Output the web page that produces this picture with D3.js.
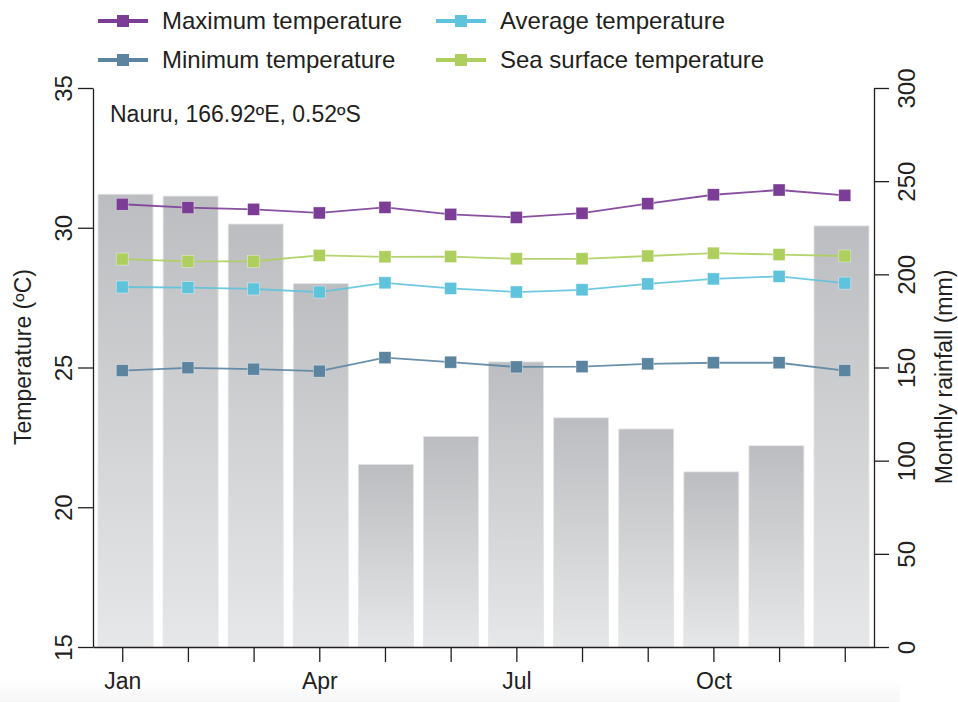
<!DOCTYPE html>
<html><head><meta charset="utf-8">
<script src="https://cdn.jsdelivr.net/npm/d3@7"></script>
<style>
body{margin:0;background:#fff}
svg{display:block}
text{font-family:"Liberation Sans",Arial,Helvetica,sans-serif;fill:#231f20}
</style>
</head><body>
<svg id="chart" width="958" height="702"></svg>
<script>
const months = ["Jan","Feb","Mar","Apr","May","Jun","Jul","Aug","Sep","Oct","Nov","Dec"];
const monthLabels = ["Jan","","","Apr","","","Jul","","","Oct","",""];
const rainfall = [243,242,227,195,98,113,153,123,117,94,108,226];
const maxTemp = [30.84,30.72,30.66,30.53,30.73,30.48,30.37,30.52,30.86,31.18,31.35,31.16];
const seaTemp = [28.88,28.80,28.80,29.01,28.96,28.97,28.89,28.89,28.99,29.09,29.04,28.99];
const avgTemp = [27.88,27.86,27.81,27.70,28.03,27.83,27.70,27.78,27.99,28.17,28.26,28.02];
const minTemp = [24.89,24.99,24.94,24.87,25.35,25.19,25.02,25.03,25.13,25.17,25.17,24.89];
const tempTicks = [15,20,25,30,35];
const rainTicks = [0,50,100,150,200,250,300];
const seriesNames = ["Maximum temperature","Average temperature","Minimum temperature","Sea surface temperature"];
const seriesColors = ["#7b3d96","#5fc3db","#5b84a1","#aecf5e"];
const locationLabel = "Nauru, 166.92ºE, 0.52ºS";

const svg = d3.select("#chart");
const L = 93, R = 874, T = 88, B = 647;
const axisColor = "#231f20";

const x = d3.scalePoint().domain(months).range([L, R]).padding(0.445);
const xb = d3.scaleBand().domain(months).range([L, R]).paddingInner(0.155).paddingOuter(0.077);
const yT = d3.scaleLinear().domain([15, 35]).range([B, T]);
const yR = d3.scaleLinear().domain([0, 300]).range([B, T]);

const defs = svg.append("defs");
const grad = defs.append("linearGradient").attr("id","barGrad").attr("x1",0).attr("y1",0).attr("x2",0).attr("y2",1);
grad.append("stop").attr("offset","0%").attr("stop-color","#bbbdc0");
grad.append("stop").attr("offset","100%").attr("stop-color","#e6e7e8");
const bgrad = defs.append("linearGradient").attr("id","bandGrad").attr("x1",0).attr("y1",0).attr("x2",0).attr("y2",1);
bgrad.append("stop").attr("offset","0%").attr("stop-color","#ffffff");
bgrad.append("stop").attr("offset","100%").attr("stop-color","#f6f6f6");

// faint bottom band
svg.append("rect").attr("x",0).attr("y",680).attr("width",900).attr("height",22).attr("fill","url(#bandGrad)");

// bars
svg.append("g").selectAll("rect").data(rainfall).join("rect")
  .attr("x",(d,i)=>xb(months[i]))
  .attr("y",d=>yR(d))
  .attr("width",xb.bandwidth())
  .attr("height",d=>B-yR(d))
  .attr("fill","url(#barGrad)")
  .attr("stroke","#e4e5e6").attr("stroke-width",0.8);

// lines
const seriesData = [maxTemp, avgTemp, minTemp, seaTemp];
const line = d3.line().x((d,i)=>x(months[i])).y(d=>yT(d));
const drawOrder = [2,1,3,0];
drawOrder.forEach(si=>{
  const g = svg.append("g");
  g.append("path").datum(seriesData[si]).attr("d",line)
    .attr("fill","none").attr("stroke",seriesColors[si]).attr("stroke-width",1.8).attr("opacity",0.9);
  g.selectAll("rect").data(seriesData[si]).join("rect")
    .attr("x",(d,i)=>x(months[i])-6).attr("y",d=>yT(d)-6)
    .attr("width",12).attr("height",12)
    .attr("fill",seriesColors[si]).attr("stroke","#ffffff").attr("stroke-width",0.6).attr("stroke-opacity",0.6);
});

function styleAxis(g){
  g.selectAll("path,line").attr("stroke",axisColor).attr("stroke-width",1.3);
  g.selectAll("text").attr("fill",axisColor).style("font-family",'"Liberation Sans",Arial,sans-serif');
}

// left axis
const gl = svg.append("g").attr("transform",`translate(${L},0)`)
  .call(d3.axisLeft(yT).tickValues(tempTicks).tickSize(15).tickSizeOuter(0).tickFormat(d3.format("d")));
gl.selectAll(".tick text").attr("transform","rotate(-90)").attr("x",0).attr("y",-21).attr("dy",0)
  .attr("text-anchor","middle").style("font-size","24px");
styleAxis(gl);

// right axis
const gr = svg.append("g").attr("transform",`translate(${R},0)`)
  .call(d3.axisRight(yR).tickValues(rainTicks).tickSize(15).tickSizeOuter(0).tickFormat(d3.format("d")));
gr.selectAll(".tick text").attr("transform","rotate(-90)").attr("x",0).attr("y",41).attr("dy",0)
  .attr("text-anchor","middle").style("font-size","24px");
styleAxis(gr);

// bottom axis
const gb = svg.append("g").attr("transform",`translate(0,${B})`)
  .call(d3.axisBottom(x).tickSize(15).tickSizeOuter(0).tickFormat((d,i)=>monthLabels[i]));
gb.selectAll(".tick text").attr("y",42).attr("dy",0).style("font-size","23px");
styleAxis(gb);

// axis titles
svg.append("text").attr("transform",`translate(31,357) rotate(-90)`)
  .attr("text-anchor","middle").style("font-size","23px").text("Temperature (ºC)");
svg.append("text").attr("transform",`translate(952,377) rotate(-90)`)
  .attr("text-anchor","middle").style("font-size","23px").text("Monthly rainfall (mm)");

// location label
svg.append("text").attr("x",110).attr("y",122).style("font-size","23px").text(locationLabel);

// legend
const legendPos = [[98,21],[436,21],[98,60],[436,60]];
seriesNames.forEach((name,i)=>{
  const [lx,ly] = legendPos[i];
  const g = svg.append("g").attr("transform",`translate(${lx},${ly})`);
  g.append("line").attr("x1",0).attr("x2",50).attr("y1",0).attr("y2",0)
    .attr("stroke",seriesColors[i]).attr("stroke-width",4);
  g.append("rect").attr("x",19).attr("y",-6).attr("width",12).attr("height",12).attr("fill",seriesColors[i]);
  g.append("text").attr("x",64).attr("y",8).style("font-size","24px").text(name);
});
</script>
</body></html>
